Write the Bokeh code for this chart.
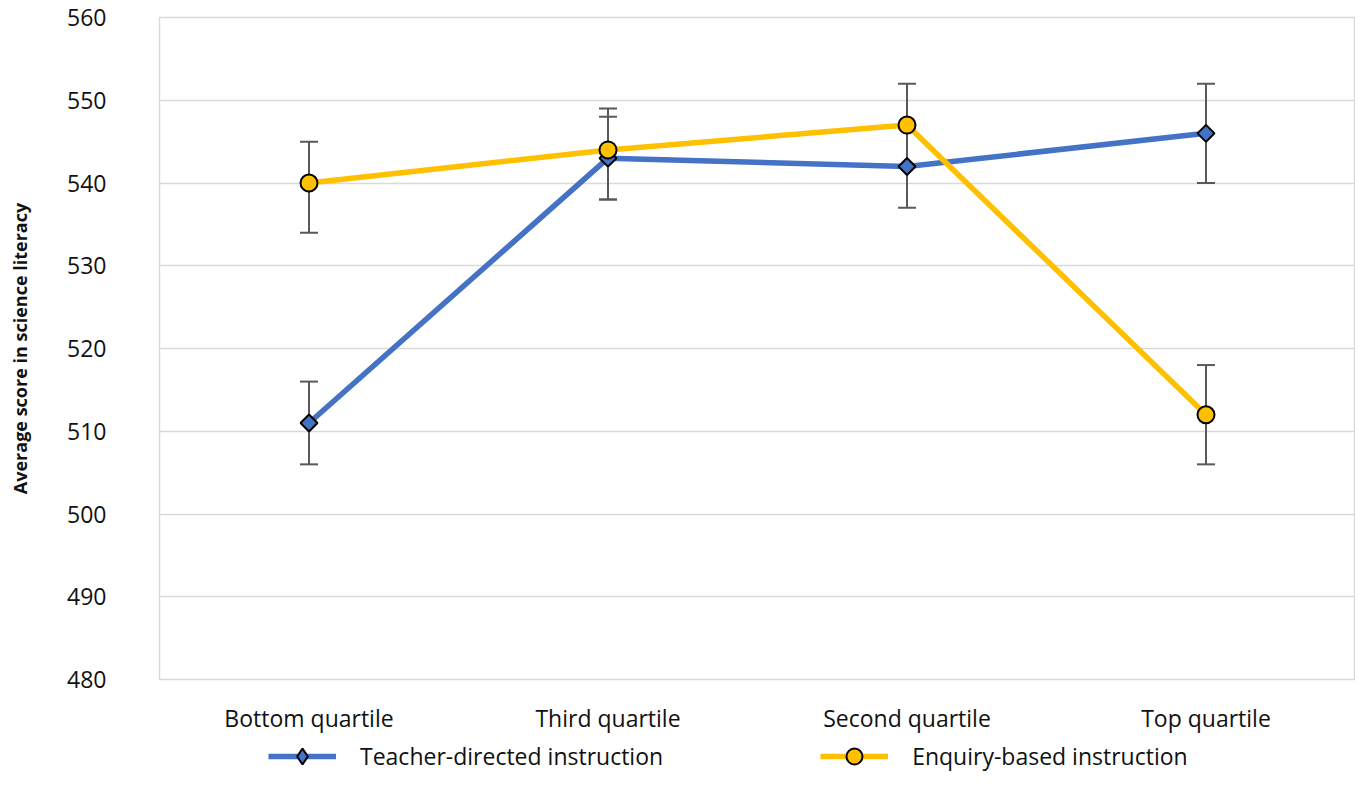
import math
from bokeh.plotting import figure
from bokeh.layouts import column
from bokeh.models import (ColumnDataSource, Whisker, TeeHead, Legend, LegendItem,
                          FixedTicker, Range1d)
from bokeh.embed import file_html
from bokeh.resources import INLINE

categories = ["Bottom quartile", "Third quartile", "Second quartile", "Top quartile"]
teacher = [511, 543, 542, 546]
teacher_lo = [506, 538, 537, 540]
teacher_hi = [516, 548, 547, 552]
enquiry = [540, 544, 547, 512]
enquiry_lo = [534, 538, 542, 506]
enquiry_hi = [545, 549, 552, 518]
y_ticks = [480, 490, 500, 510, 520, 530, 540, 550, 560]

FONT = "Open Sans"
BLUE = "#4472C4"
GOLD = "#FFC000"
GRID = "#d9d9d9"
ERR = "#595959"
TXT = "#111111"

src_t = ColumnDataSource(dict(x=categories, y=teacher, lo=teacher_lo, hi=teacher_hi))
src_e = ColumnDataSource(dict(x=categories, y=enquiry, lo=enquiry_lo, hi=enquiry_hi))

p = figure(x_range=categories, y_range=(480, 560), width=1355, height=736,
           output_backend="svg", toolbar_location=None,
           min_border_left=159, min_border_top=17, min_border_right=0,
           min_border_bottom=57,
           background_fill_color="white", border_fill_color="white")

p.outline_line_color = GRID
p.outline_line_width = 1.5
p.xgrid.grid_line_color = None
p.ygrid.grid_line_color = GRID
p.ygrid.grid_line_width = 1.5

p.yaxis.ticker = FixedTicker(ticks=y_ticks)
for ax in (p.xaxis[0], p.yaxis[0]):
    ax.axis_line_color = None
    ax.major_tick_line_color = None
    ax.minor_tick_line_color = None
    ax.major_label_text_font = FONT
    ax.major_label_text_font_size = "23px"
    ax.major_label_text_color = TXT

p.yaxis.major_label_standoff = 47
p.xaxis.major_label_standoff = 16
p.yaxis.axis_label = "Average score in science literacy"
p.yaxis.axis_label_text_font = FONT
p.yaxis.axis_label_text_font_size = "18px"
p.yaxis.axis_label_text_font_style = "bold"
p.yaxis.axis_label_text_color = TXT
p.yaxis.axis_label_standoff = 32

for src in (src_t, src_e):
    w = Whisker(source=src, base="x", lower="lo", upper="hi",
                line_color=ERR, line_width=2,
                upper_head=TeeHead(size=18, line_color=ERR, line_width=2),
                lower_head=TeeHead(size=18, line_color=ERR, line_width=2))
    p.add_layout(w)

p.line("x", "y", source=src_t, line_color=BLUE, line_width=5.5)
p.scatter("x", "y", source=src_t, marker="square", angle=math.pi / 4, size=12,
          fill_color=BLUE, line_color="black", line_width=2)
p.line("x", "y", source=src_e, line_color=GOLD, line_width=5.5)
p.scatter("x", "y", source=src_e, marker="circle", size=17,
          fill_color=GOLD, line_color="black", line_width=2)

# legend strip below the chart; its y range excludes the data so nothing is drawn in it
lg = figure(x_range=categories, y_range=Range1d(0, 1), width=1355, height=40,
            output_backend="svg", toolbar_location=None,
            min_border=0, outline_line_color=None,
            background_fill_color="white", border_fill_color="white")
lg.axis.visible = False
lg.grid.visible = False
lt = lg.line("x", "y", source=src_t, line_color=BLUE, line_width=5.5)
mt = lg.scatter("x", "y", source=src_t, marker="diamond", size=16,
                fill_color=BLUE, line_color="black", line_width=2)
le = lg.line("x", "y", source=src_e, line_color=GOLD, line_width=5.5)
me = lg.scatter("x", "y", source=src_e, marker="circle", size=17,
                fill_color=GOLD, line_color="black", line_width=2)

legend = Legend(items=[LegendItem(label="Teacher-directed instruction", renderers=[lt, mt]),
                       LegendItem(label="Enquiry-based instruction", renderers=[le, me])],
                orientation="horizontal", location=(109, 0),
                glyph_width=68, glyph_height=40, label_standoff=24, spacing=157,
                padding=0, margin=0, border_line_color=None,
                background_fill_alpha=0,
                label_text_font=FONT, label_text_font_size="23px",
                label_text_color=TXT)
lg.add_layout(legend, "center")

layout = column(p, lg, spacing=0)
open("out.html", "w").write(file_html(layout, INLINE))
